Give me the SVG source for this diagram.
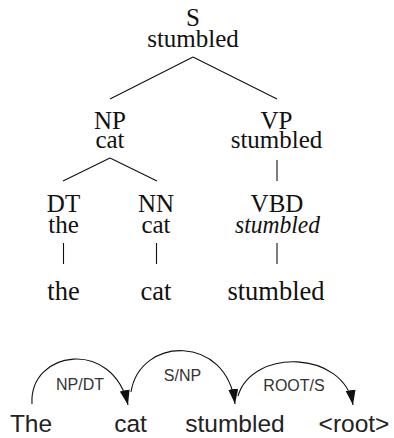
<svg xmlns="http://www.w3.org/2000/svg" width="394" height="438" viewBox="0 0 394 438">
<style>
.t{font-family:"Liberation Serif","DejaVu Serif",serif;font-size:25px;fill:#111;text-anchor:middle}
.leaf{font-size:26.5px}
.it{font-style:italic}
.w{font-family:"Liberation Sans",Arial,sans-serif;font-size:24.5px;fill:#222;text-anchor:middle}
.l{font-family:"Liberation Sans",Arial,sans-serif;font-size:16px;fill:#333;text-anchor:middle}
.e{stroke:#111;stroke-width:1.1;fill:none}
.a{stroke:#111;stroke-width:1.1;fill:none;marker-end:url(#ah)}
</style>
<defs>
<marker id="ah" markerUnits="userSpaceOnUse" markerWidth="16" markerHeight="12" refX="15" refY="5" orient="auto" viewBox="0 0 16 12">
<path d="M0,0 L15,5 L0,10 z" fill="#111"/>
</marker>
</defs>
<g id="connectors">
<path class="e" d="M193,57 L110,99"/>
<path class="e" d="M193,57 L277,99"/>
<path class="e" d="M110,158 L63,181"/>
<path class="e" d="M110,158 L157,181"/>
<path class="e" d="M277,160 L277,181"/>
<path class="e" d="M63.5,243 L63.5,264"/>
<path class="e" d="M156.5,243 L156.5,264"/>
<path class="e" d="M277,243 L277,264"/>
<path class="a" d="M32,404 C29,350 113,338 128,405"/>
<path class="a" d="M131,392 C140,336 227,334 235,404"/>
<path class="a" d="M238,396 C252,348 344,350 353,405"/>
</g>
<g id="S"><text class="t" x="193" y="25.5">S</text><text class="t" x="193" y="46.5">stumbled</text></g>
<g id="NP"><text class="t" x="110" y="128.5">NP</text><text class="t" x="110" y="148.3">cat</text></g>
<g id="VP"><text class="t" x="276.5" y="128.5">VP</text><text class="t" x="276.5" y="148.3">stumbled</text></g>
<g id="DT"><text class="t" x="63.5" y="211.5">DT</text><text class="t" x="63.5" y="233">the</text></g>
<g id="NN"><text class="t" x="156" y="211.5">NN</text><text class="t" x="156" y="233">cat</text></g>
<g id="VBD"><text class="t" x="277" y="211.5">VBD</text><text class="t it" x="277.5" y="233" textLength="85" lengthAdjust="spacingAndGlyphs">stumbled</text></g>
<g id="leaf-the"><text class="t leaf" x="63.5" y="300">the</text></g>
<g id="leaf-cat"><text class="t leaf" x="156" y="300">cat</text></g>
<g id="leaf-stumbled"><text class="t leaf" x="276" y="300">stumbled</text></g>
<g id="w-The"><text class="w" x="31" y="431.5">The</text></g>
<g id="w-cat"><text class="w" x="130.5" y="431.5">cat</text></g>
<g id="w-stumbled"><text class="w" x="235" y="431.5">stumbled</text></g>
<g id="w-root"><text class="w" x="354" y="431.5">&lt;root&gt;</text></g>
<g id="labels">
<text class="l" x="80" y="390">NP/DT</text>
<text class="l" x="182.5" y="381">S/NP</text>
<text class="l" x="294" y="391">ROOT/S</text>
</g>
</svg>
